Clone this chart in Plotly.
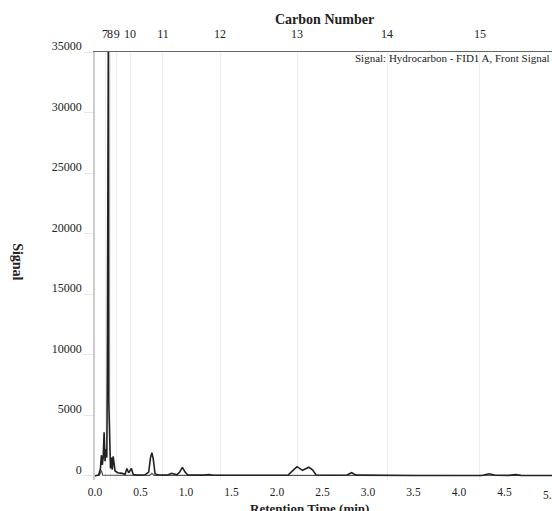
import plotly.graph_objects as go

# Main chromatogram (retention time in min, signal)
rt_main = [0.00, 0.04, 0.06, 0.07, 0.08, 0.09, 0.10, 0.11, 0.12, 0.13, 0.135, 0.14, 0.148, 0.152,
           0.16, 0.17, 0.18, 0.19, 0.20, 0.22, 0.25, 0.30, 0.33, 0.35, 0.37, 0.40, 0.42, 0.46,
           0.55, 0.59, 0.61, 0.625, 0.64, 0.66, 0.70, 0.80, 0.84, 0.87, 0.90, 0.93, 0.96, 0.99, 1.02,
           1.20, 1.25, 1.30, 1.60, 2.00, 2.12, 2.17, 2.22, 2.28, 2.35, 2.39, 2.43, 2.60, 2.77, 2.82,
           2.87, 3.50, 4.25, 4.33, 4.40, 4.55, 4.62, 4.68, 5.10]
sig_main = [0, 50, 600, 1700, 900, 1500, 3600, 1200, 2200, 1500, 8000, 40000, 40000, 6000,
            1800, 600, 1500, 500, 1600, 400, 250, 200, 100, 600, 250, 600, 100, 50,
            80, 300, 1500, 1900, 1400, 150, 60, 60, 200, 150, 80, 300, 700, 300, 60,
            50, 100, 40, 30, 30, 40, 400, 750, 450, 700, 500, 60, 40, 60, 250,
            50, 20, 20, 170, 40, 30, 90, 30, 20]

# Faint blank/baseline trace
rt_blank = [0.00, 0.05, 0.07, 0.085, 0.60, 0.625, 0.65, 5.10]
sig_blank = [0, 50, 450, 50, 30, 200, 30, 20]

# Top axis: carbon number positions on retention time
carbon_rt = [0.11, 0.165, 0.24, 0.385, 0.747, 1.374, 2.22, 3.21, 4.23]
carbon_lbl = ["7", "8", "9", "10", "11", "12", "13", "14", "15"]

x_ticks = [0.0, 0.5, 1.0, 1.5, 2.0, 2.5, 3.0, 3.5, 4.0, 4.5]
x_tick_text = ["0.0", "0.5", "1.0", "1.5", "2.0", "2.5", "3.0", "3.5", "4.0", "4.5"]
y_ticks = [0, 5000, 10000, 15000, 20000, 25000, 30000, 35000]
y_tick_text = ["0", "5000", "10000", "15000", "20000", "25000", "30000", "35000"]

FONT = "Liberation Serif"
XR = [0, 5.022]

fig = go.Figure()
fig.add_trace(go.Scatter(x=rt_blank, y=sig_blank, mode="lines",
                         line=dict(color="#555555", width=1.2), showlegend=False))
fig.add_trace(go.Scatter(x=rt_main, y=sig_main, mode="lines",
                         line=dict(color="#222222", width=1.6), showlegend=False))
# dummy trace for top axis
fig.add_trace(go.Scatter(x=[None], y=[None], xaxis="x2", showlegend=False))

fig.update_layout(
    width=552, height=511,
    margin=dict(l=95, r=0, t=52, b=31),
    paper_bgcolor="white", plot_bgcolor="white",
    font=dict(family=FONT, size=12, color="#222222"),
    xaxis=dict(range=XR, tickvals=x_ticks, ticktext=x_tick_text, showgrid=False,
               zeroline=False, showline=False, ticks="", ticklabelstandoff=3, tickangle=0,
               tickfont=dict(size=11.5, family=FONT)),
    xaxis2=dict(range=XR, overlaying="x", side="top", tickvals=carbon_rt, ticktext=carbon_lbl,
                showgrid=True, gridcolor="#eeeeee", gridwidth=1, zeroline=False,
                showline=True, linecolor="#666666", linewidth=1, ticks="", tickangle=0,
                ticklabelstandoff=8, tickfont=dict(size=12, family=FONT)),
    yaxis=dict(range=[-350, 35000], tickvals=y_ticks, ticktext=y_tick_text, showgrid=False,
               zeroline=False, showline=True, linecolor="#cccccc", linewidth=1.5,
               ticks="outside", ticklen=9, tickcolor="#e6e6e6", ticklabelstandoff=0,
               ticklabelshift=-6, tickfont=dict(size=12, family=FONT)),
    annotations=[
        dict(text="<b>Carbon Number</b>", xref="paper", yref="paper", x=0.503, y=1.075,
             xanchor="center", yanchor="middle", showarrow=False,
             font=dict(size=14, family=FONT, color="#222222")),
        dict(text="<b>Signal</b>", xref="paper", yref="paper", x=-0.1685, y=0.509,
             xanchor="center", yanchor="middle", showarrow=False, textangle=90,
             font=dict(size=14, family=FONT, color="#222222")),
        dict(text="<b>Retention Time (min)</b>", xref="paper", yref="paper", x=0.470, y=-0.044,
             xanchor="center", yanchor="top", showarrow=False,
             font=dict(size=13, family=FONT, color="#222222")),
        dict(text="5.0", xref="x", yref="paper", x=5.0, y=-0.016,
             xanchor="center", yanchor="top", showarrow=False,
             font=dict(size=11.5, family=FONT, color="#222222")),
        dict(text="Signal: Hydrocarbon - FID1 A, Front Signal", xref="paper", yref="paper",
             x=1.0, y=0.986, xanchor="right", yanchor="middle", showarrow=False,
             font=dict(size=11, family=FONT, color="#222222")),
    ],
)

fig.write_html("out.html")
